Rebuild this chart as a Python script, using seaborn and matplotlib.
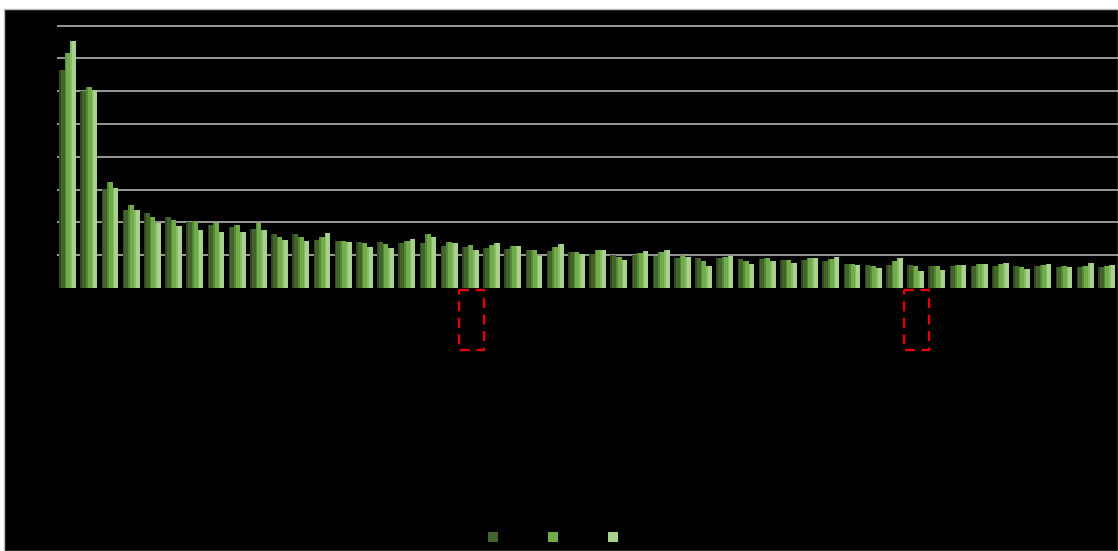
import matplotlib
matplotlib.use("Agg")
import matplotlib.pyplot as plt
from matplotlib.patches import Rectangle, Patch
import seaborn as sns
import pandas as pd
import numpy as np

# ---- data ----
categories = list(range(1, 51))
series_names = ["Series 1", "Series 2", "Series 3"]
series_dark = [6.65, 6.02, 3.02, 2.38, 2.28, 2.17, 2.01, 1.93, 1.87, 1.79,
               1.64, 1.64, 1.45, 1.43, 1.41, 1.41, 1.38, 1.36, 1.28, 1.26,
               1.21, 1.18, 1.16, 1.13, 1.10, 1.04, 1.02, 1.00, 0.98, 0.91,
               0.90, 0.90, 0.88, 0.87, 0.86, 0.84, 0.82, 0.74, 0.71, 0.71,
               0.71, 0.68, 0.68, 0.67, 0.67, 0.66, 0.66, 0.64, 0.63, 0.63]
series_mid = [7.16, 6.12, 3.24, 2.54, 2.17, 2.07, 2.05, 1.99, 1.93, 1.97,
              1.56, 1.56, 1.57, 1.43, 1.38, 1.33, 1.44, 1.65, 1.39, 1.32,
              1.30, 1.27, 1.16, 1.24, 1.10, 1.15, 0.95, 1.08, 1.09, 1.00,
              0.81, 0.95, 0.83, 0.90, 0.86, 0.92, 0.88, 0.73, 0.68, 0.82,
              0.67, 0.67, 0.71, 0.72, 0.72, 0.63, 0.70, 0.68, 0.68, 0.67]
series_light = [7.54, 6.04, 3.05, 2.38, 1.99, 1.88, 1.77, 1.70, 1.72, 1.78,
                1.45, 1.44, 1.67, 1.41, 1.25, 1.21, 1.48, 1.55, 1.37, 1.16,
                1.37, 1.29, 0.97, 1.33, 1.04, 1.17, 0.85, 1.13, 1.15, 0.95,
                0.66, 0.98, 0.73, 0.81, 0.77, 0.92, 0.95, 0.70, 0.62, 0.90,
                0.53, 0.55, 0.71, 0.73, 0.75, 0.58, 0.73, 0.65, 0.75, 0.70]
highlighted = [20, 41]          # categories marked with red dashed boxes
grid_values = [1, 2, 3, 4, 5, 6, 7, 8]

colors = ["#43652B", "#70AD47", "#A9D18E"]
shade = ["#2E4A1C", "#55893A", "#8DB872"]

df = pd.DataFrame({
    "category": categories * 3,
    "value": series_dark + series_mid + series_light,
    "series": [series_names[0]] * 50 + [series_names[1]] * 50 + [series_names[2]] * 50,
})

W, H = 1118, 551
fig = plt.figure(figsize=(W / 100, H / 100), dpi=100)
fig.patch.set_facecolor("#ffffff")
bg = fig.add_axes([0, 0, 1, 1], zorder=0)
bg.set_xlim(0, W)
bg.set_ylim(H, 0)
bg.axis("off")
bg.add_patch(Rectangle((4, 9), W - 4, H - 9, facecolor="black",
                       edgecolor="#bdbdbd", linewidth=1.0))

ax_left = 57 / W
ax_bottom = (H - 288) / H
unit_px = 32.8
ymax = 8.1
ax_h = ymax * unit_px / H
ax = fig.add_axes([ax_left, ax_bottom, 1 - ax_left, ax_h], zorder=2)
ax.set_facecolor("none")

sns.barplot(data=df, x="category", y="value", hue="series",
            hue_order=series_names, palette=colors, width=0.8,
            saturation=1, legend=False, ax=ax, zorder=3, linewidth=0)

# 3D-like darker left strip on each bar (derived from drawn patches)
bars = list(ax.patches)
for i, p in enumerate(bars):
    s = i // 50
    ax.add_patch(Rectangle((p.get_x(), 0), p.get_width() * 0.28, p.get_height(),
                           facecolor=shade[s], edgecolor="none", zorder=4))

right_lim = (W - 57) / 21.2 - 0.5
ax.set_xlim(-0.5, right_lim)
ax.set_ylim(0, ymax)
ax.set_yticks(grid_values)
ax.yaxis.grid(True, color="#a6a6a6", linewidth=1.3, zorder=1)
ax.xaxis.grid(False)
ax.set_axisbelow(True)
ax.tick_params(left=False, bottom=False, labelleft=False, labelbottom=False)
for sp in ax.spines.values():
    sp.set_visible(False)
ax.set_xlabel("")
ax.set_ylabel("")

# red dashed boxes under highlighted categories
for c in highlighted:
    idx = categories.index(c)
    ax.add_patch(Rectangle((idx - 0.53, -0.06), 1.18, -1.83, fill=False,
                           edgecolor="#E60000", linewidth=1.7,
                           linestyle=(0, (4.2, 2.8)), clip_on=False, zorder=5))

handles = [Patch(facecolor=c, edgecolor="none") for c in colors]
leg = fig.legend(handles, ["", "", ""], loc="center", ncol=3,
                 bbox_to_anchor=(553 / W, 13 / H), frameon=False,
                 handlelength=0.75, handleheight=0.75, handletextpad=0.0,
                 columnspacing=3.55, fontsize=10)

fig.savefig("out.png", dpi=100, facecolor=fig.get_facecolor())
